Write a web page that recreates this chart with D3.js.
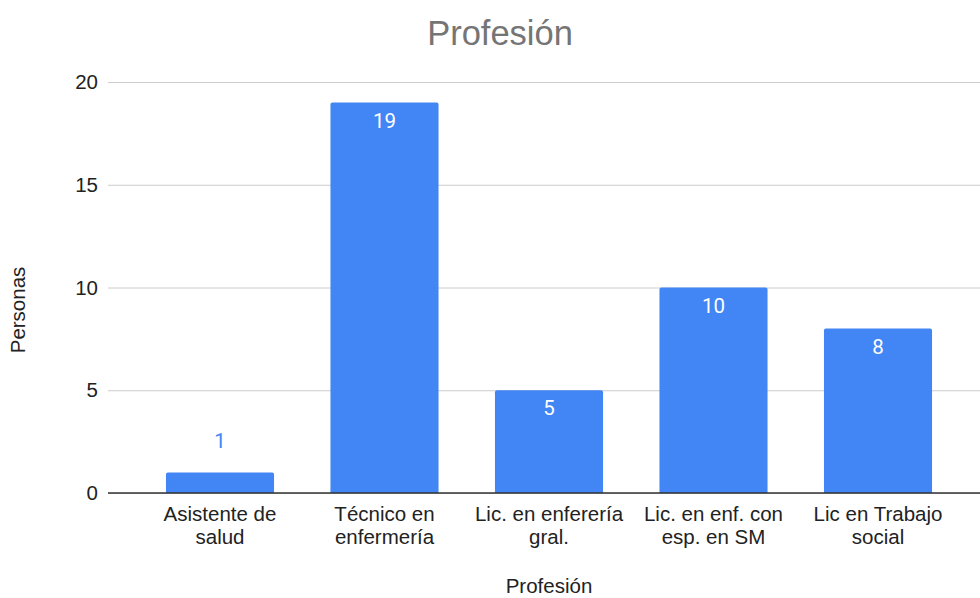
<!DOCTYPE html>
<html>
<head>
<meta charset="utf-8">
<script src="https://cdn.jsdelivr.net/npm/d3@7"></script>
<style>
  html, body { margin: 0; padding: 0; background: #fff; }
  svg { display: block; font-family: "Liberation Sans", Arial, sans-serif; }
</style>
</head>
<body>
<svg id="chart" width="980" height="598"></svg>
<script>
// Profession counts
const categories = [
  ["Asistente de", "salud"],
  ["Técnico en", "enfermería"],
  ["Lic. en enferería", "gral."],
  ["Lic. en enf. con", "esp. en SM"],
  ["Lic en Trabajo", "social"]
];
const personas = [1, 19, 5, 10, 8];
const yTicks = [0, 5, 10, 15, 20];

const svg = d3.select("#chart");
const plot = { left: 108, right: 980, top: 82, bottom: 493 };
const fs = 20.5;

const keys = categories.map(c => c.join(" "));
const x = d3.scaleBand()
  .domain(keys)
  .range([137.75, 960.25])
  .paddingInner(0.343)
  .paddingOuter(0.1715);

const y = d3.scaleLinear().domain([0, 20]).range([plot.bottom, plot.top]);

// Horizontal gridlines
const yAxis = d3.axisLeft(y).tickValues(yTicks).tickSize(-(plot.right - plot.left)).tickPadding(10);
const gy = svg.append("g").attr("transform", `translate(${plot.left},0)`).call(yAxis);
gy.select(".domain").remove();
gy.selectAll(".tick line").attr("stroke", "#cccccc").attr("stroke-width", 1);
gy.selectAll(".tick text")
  .attr("fill", "#222").attr("font-size", fs)
  .attr("font-family", "Liberation Sans, Arial, sans-serif");

// Bars with slightly rounded tops
const r = 2;
svg.append("g").selectAll("path").data(personas).join("path")
  .attr("fill", "#4285f4")
  .attr("d", (d, i) => {
    const x0 = x(keys[i]), w = x.bandwidth(), y0 = y(d), yb = y(0);
    return `M${x0},${yb}V${y0 + r}Q${x0},${y0} ${x0 + r},${y0}H${x0 + w - r}Q${x0 + w},${y0} ${x0 + w},${y0 + r}V${yb}Z`;
  });

// Baseline
svg.append("line")
  .attr("x1", plot.left).attr("x2", plot.right)
  .attr("y1", y(0)).attr("y2", y(0))
  .attr("stroke", "#333").attr("stroke-width", 1.5);

// Value labels: inside the bar when tall enough, above otherwise
svg.append("g").selectAll("text").data(personas).join("text")
  .attr("x", (d, i) => x(keys[i]) + x.bandwidth() / 2)
  .attr("y", d => (y(0) - y(d) > 40) ? y(d) + 25 : y(d) - 24)
  .attr("text-anchor", "middle")
  .attr("font-family", "Roboto, sans-serif")
  .attr("font-size", fs)
  .attr("fill", d => (y(0) - y(d) > 40) ? "#ffffff" : "#4285f4")
  .text(d => d);

// Category labels (two lines each)
const cl = svg.append("g").selectAll("text").data(categories).join("text")
  .attr("text-anchor", "middle")
  .attr("font-size", fs)
  .attr("fill", "#222");
cl.each(function (c, i) {
  const t = d3.select(this);
  const cx = x(keys[i]) + x.bandwidth() / 2;
  c.forEach((line, j) => {
    t.append("tspan").attr("x", cx).attr("y", 521 + j * 23).text(line);
  });
});

// Title
svg.append("text")
  .attr("x", 500).attr("y", 45)
  .attr("text-anchor", "middle")
  .attr("font-size", 34.5)
  .attr("fill", "#757575")
  .text("Profesión");

// Axis titles
svg.append("text")
  .attr("x", 549).attr("y", 593)
  .attr("text-anchor", "middle")
  .attr("font-size", fs).attr("fill", "#222")
  .text("Profesión");

svg.append("text")
  .attr("transform", "translate(25,310) rotate(-90)")
  .attr("text-anchor", "middle")
  .attr("font-size", fs).attr("fill", "#222")
  .text("Personas");
</script>
</body>
</html>
